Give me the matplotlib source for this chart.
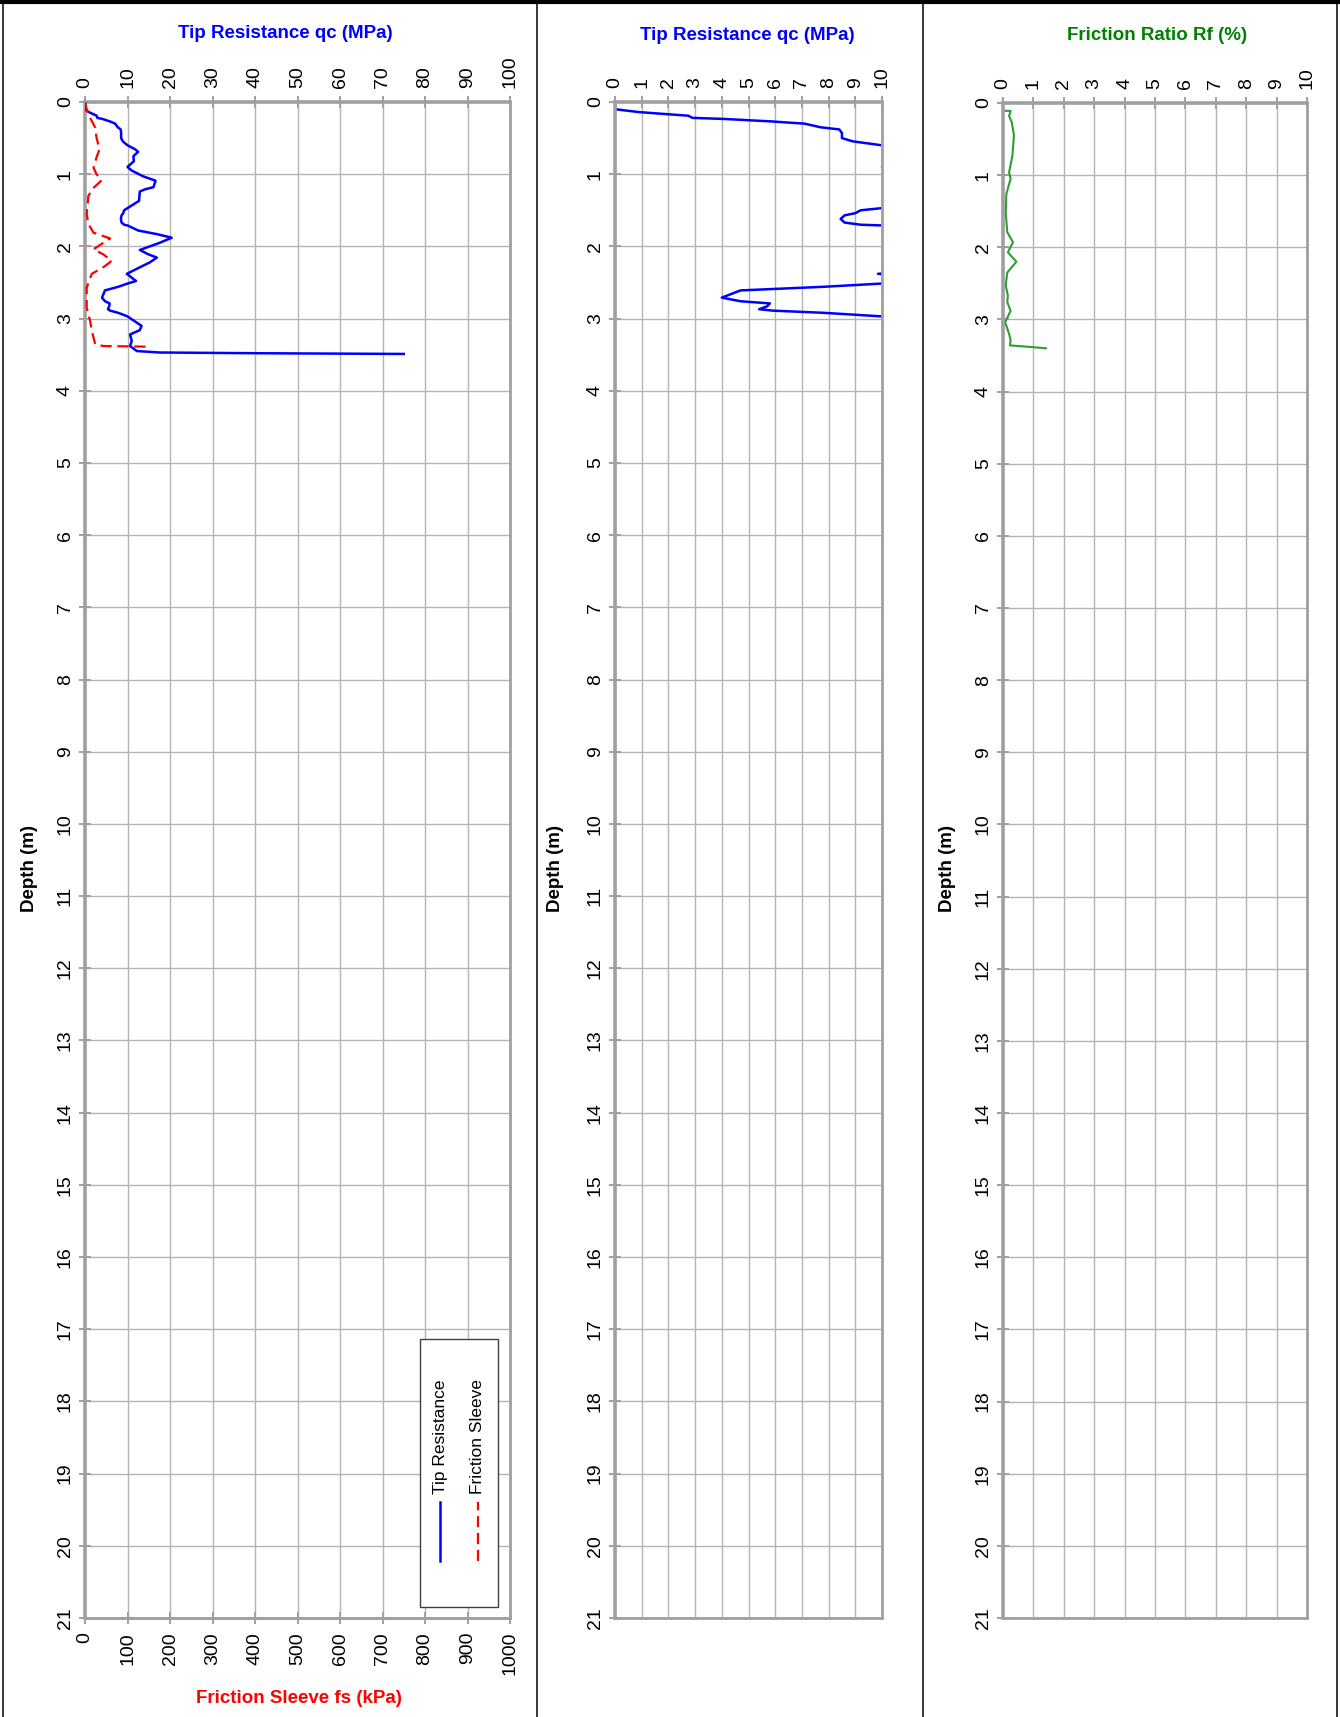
import matplotlib
matplotlib.use('Agg')
import matplotlib.pyplot as plt
from matplotlib.lines import Line2D
from matplotlib.patches import Rectangle
import numpy as np

plt.rcParams.update({
    'font.family': ['Liberation Sans', 'DejaVu Sans'],
    'font.size': 14,
})

# ── CPT sounding data (read off the log) ─────────────────────────────────────
# tip resistance qc (MPa) vs depth (m)
qc_depth = [0.00, 0.10, 0.14, 0.17, 0.19, 0.22, 0.235, 0.27, 0.30, 0.35, 0.38,
            0.43, 0.50, 0.545, 0.60, 0.655, 0.69, 0.75, 0.82, 0.90, 0.95, 1.03,
            1.09, 1.18, 1.21, 1.24, 1.37, 1.47, 1.50, 1.54, 1.57, 1.62, 1.67,
            1.70, 1.71, 1.78, 1.83, 1.88, 1.95, 2.05, 2.11, 2.155, 2.22, 2.29,
            2.38, 2.48, 2.515, 2.56, 2.61, 2.71, 2.76, 2.79, 2.83, 2.87, 2.89,
            2.92, 2.97, 3.01, 3.10, 3.16, 3.22, 3.31, 3.38, 3.45, 3.47, 3.48,
            3.49]
qc_mpa = [0.0, 0.0, 0.9, 2.0, 2.75, 2.9, 4.1, 5.9, 7.1, 7.7, 8.4,
          8.5, 8.5, 8.9, 10.0, 11.8, 12.5, 11.4, 11.5, 10.0, 11.0, 13.7,
          16.6, 16.1, 14.1, 12.9, 12.7, 10.0, 9.2, 9.0, 8.6, 8.45, 8.6,
          9.2, 10.0, 12.5, 16.9, 20.4, 17.6, 12.9, 14.9, 16.9, 15.3, 12.9,
          9.85, 12.0, 10.0, 7.8, 4.7, 4.0, 4.7, 5.8, 5.7, 5.4, 5.9,
          7.8, 10.0, 11.0, 13.3, 12.9, 10.6, 11.0, 10.6, 12.2, 17.6, 40.0,
          75.0]

# friction sleeve fs (kPa) vs depth (m)
fs_depth = [0.00, 0.10, 0.22, 0.355, 0.49, 0.655, 0.77, 0.91, 1.00, 1.085,
            1.19, 1.30, 1.555, 1.69, 1.81, 1.89, 2.04, 2.11, 2.20, 2.29, 2.38,
            2.57, 2.85, 3.03, 3.17, 3.355, 3.38, 3.39]
fs_kpa = [0, 4, 12, 24, 27, 34, 27, 20, 27, 39,
          20, 8, 4, 8, 20, 59, 20, 43, 63, 43, 16,
          4, 4, 12, 16, 24, 43, 153]

# friction ratio Rf (%) vs depth (m)
rf_depth = [0.00, 0.106, 0.11, 0.18, 0.27, 0.45, 0.73, 0.96, 1.05, 1.26, 1.52,
            1.79, 1.93, 2.07, 2.20, 2.35, 2.53, 2.67, 2.76, 2.88, 3.04, 3.20,
            3.29, 3.36, 3.38, 3.40]
rf_pct = [0.0, 0.0, 0.25, 0.20, 0.29, 0.36, 0.31, 0.20, 0.25, 0.11, 0.09,
          0.14, 0.33, 0.16, 0.44, 0.14, 0.09, 0.16, 0.14, 0.25, 0.07, 0.20,
          0.25, 0.23, 0.86, 1.41]

BLUE = '#0000ff'
RED = '#ff0000'
GREEN_T = '#008000'
GREEN_L = '#2e9e2e'
GRID = '#b3b3b3'
SPINE = '#a0a0a0'
TICK_KW = dict(direction='inout', length=8, width=1.4, color=SPINE,
               labelsize=14)

W, H = 1340, 1717
fig = plt.figure(figsize=(W / 100, H / 100), dpi=100)


def rect(l, t, r, b):
    return [l / W, 1 - b / H, (r - l) / W, (b - t) / H]


def fx(x):
    return x / W


def fy(y):
    return 1 - y / H


def style(ax, xmax, xstep):
    ax.set_xlim(0, xmax)
    ax.set_ylim(21, 0)
    ax.set_xticks(np.arange(0, xmax + xstep / 2, xstep))
    ax.set_yticks(np.arange(0, 22, 1))
    ax.xaxis.tick_top()
    ax.grid(True, color=GRID, lw=1.0)
    ax.set_axisbelow(True)
    for s in ax.spines.values():
        s.set_color(SPINE)
        s.set_linewidth(2.0)
    ax.spines['top'].set_linewidth(2.6)
    ax.spines['left'].set_linewidth(2.6)
    ax.tick_params(**TICK_KW)
    ax.tick_params(axis='x', labelrotation=90, pad=6)
    ax.tick_params(axis='y', labelrotation=90, pad=4)
    for lab in ax.get_yticklabels():
        lab.set_va('center')
    for lab in ax.get_xticklabels():
        lab.set_va('bottom')


# ── Panel 1: qc and fs ──────────────────────────────────────────────────────
ax1 = fig.add_axes(rect(85, 102, 510, 1618))
ax1b = ax1.twiny()
style(ax1, 100, 10)
ax1.plot(qc_mpa, qc_depth, color=BLUE, lw=1.8, zorder=3)

ax1b.set_xlim(0, 1000)
ax1b.set_ylim(21, 0)
ax1b.xaxis.tick_bottom()
ax1b.set_xticks(np.arange(0, 1001, 100))
for s in ax1b.spines.values():
    s.set_visible(False)
ax1b.spines['bottom'].set_visible(True)
ax1b.spines['bottom'].set_color(SPINE)
ax1b.spines['bottom'].set_linewidth(2.0)
ax1b.tick_params(labelrotation=90, pad=6, **TICK_KW)
for lab in ax1b.get_xticklabels():
    lab.set_va('top')
ax1b.plot(fs_kpa, fs_depth, color=RED, lw=1.6, ls=(0, (5, 2.6)), zorder=3)

# ── Panel 2: qc zoomed to 0-10 MPa ──────────────────────────────────────────
ax2 = fig.add_axes(rect(615, 102, 882, 1618))
style(ax2, 10, 1)
ax2.plot(qc_mpa, qc_depth, color=BLUE, lw=1.8)

# ── Panel 3: friction ratio ─────────────────────────────────────────────────
ax3 = fig.add_axes(rect(1003, 103, 1307, 1618))
style(ax3, 10, 1)
ax3.plot(rf_pct, rf_depth, color=GREEN_L, lw=1.5)

# ── Titles & axis labels ────────────────────────────────────────────────────
bold = dict(fontsize=13.5, fontweight='bold', ha='center', va='center')
fig.text(fx(285), fy(33), 'Tip Resistance qc (MPa)', color=BLUE, **bold)
fig.text(fx(747), fy(35), 'Tip Resistance qc (MPa)', color=BLUE, **bold)
fig.text(fx(1157), fy(35), 'Friction Ratio Rf (%)', color=GREEN_T, **bold)
fig.text(fx(299), fy(1698), 'Friction Sleeve fs (kPa)', color=RED, **bold)
for xl in (29, 555, 948):
    fig.text(fx(xl), fy(868), 'Depth (m)', rotation=90, **bold)

# ── Legend (vertical, rotated entries) ──────────────────────────────────────
fig.add_artist(Rectangle((fx(420), fy(1607)), 78 / W, 268 / H,
                         transform=fig.transFigure, facecolor='white',
                         edgecolor='#404040', lw=1.0, zorder=5))
fig.add_artist(Line2D([fx(440), fx(440)], [fy(1561), fy(1502)],
                      transform=fig.transFigure, color=BLUE, lw=1.8, zorder=6))
fig.add_artist(Line2D([fx(478), fx(478)], [fy(1561), fy(1502)],
                      transform=fig.transFigure, color=RED, lw=1.6,
                      ls=(0, (5, 2.6)), zorder=6))
fig.text(fx(440), fy(1494), 'Tip Resistance', rotation=90, ha='center',
         va='bottom', fontsize=12.5, zorder=6)
fig.text(fx(478), fy(1494), 'Friction Sleeve', rotation=90, ha='center',
         va='bottom', fontsize=12.5, zorder=6)

# ── Sheet frame ─────────────────────────────────────────────────────────────
frame = dict(transform=fig.transFigure, color='black', zorder=7)
fig.add_artist(Line2D([0, 1], [fy(2), fy(2)], lw=3, **frame))
for xv in (3, 537, 923, 1337):
    fig.add_artist(Line2D([fx(xv), fx(xv)], [fy(2), 0], lw=1.1, **frame))

fig.savefig('out.png', dpi=100)
